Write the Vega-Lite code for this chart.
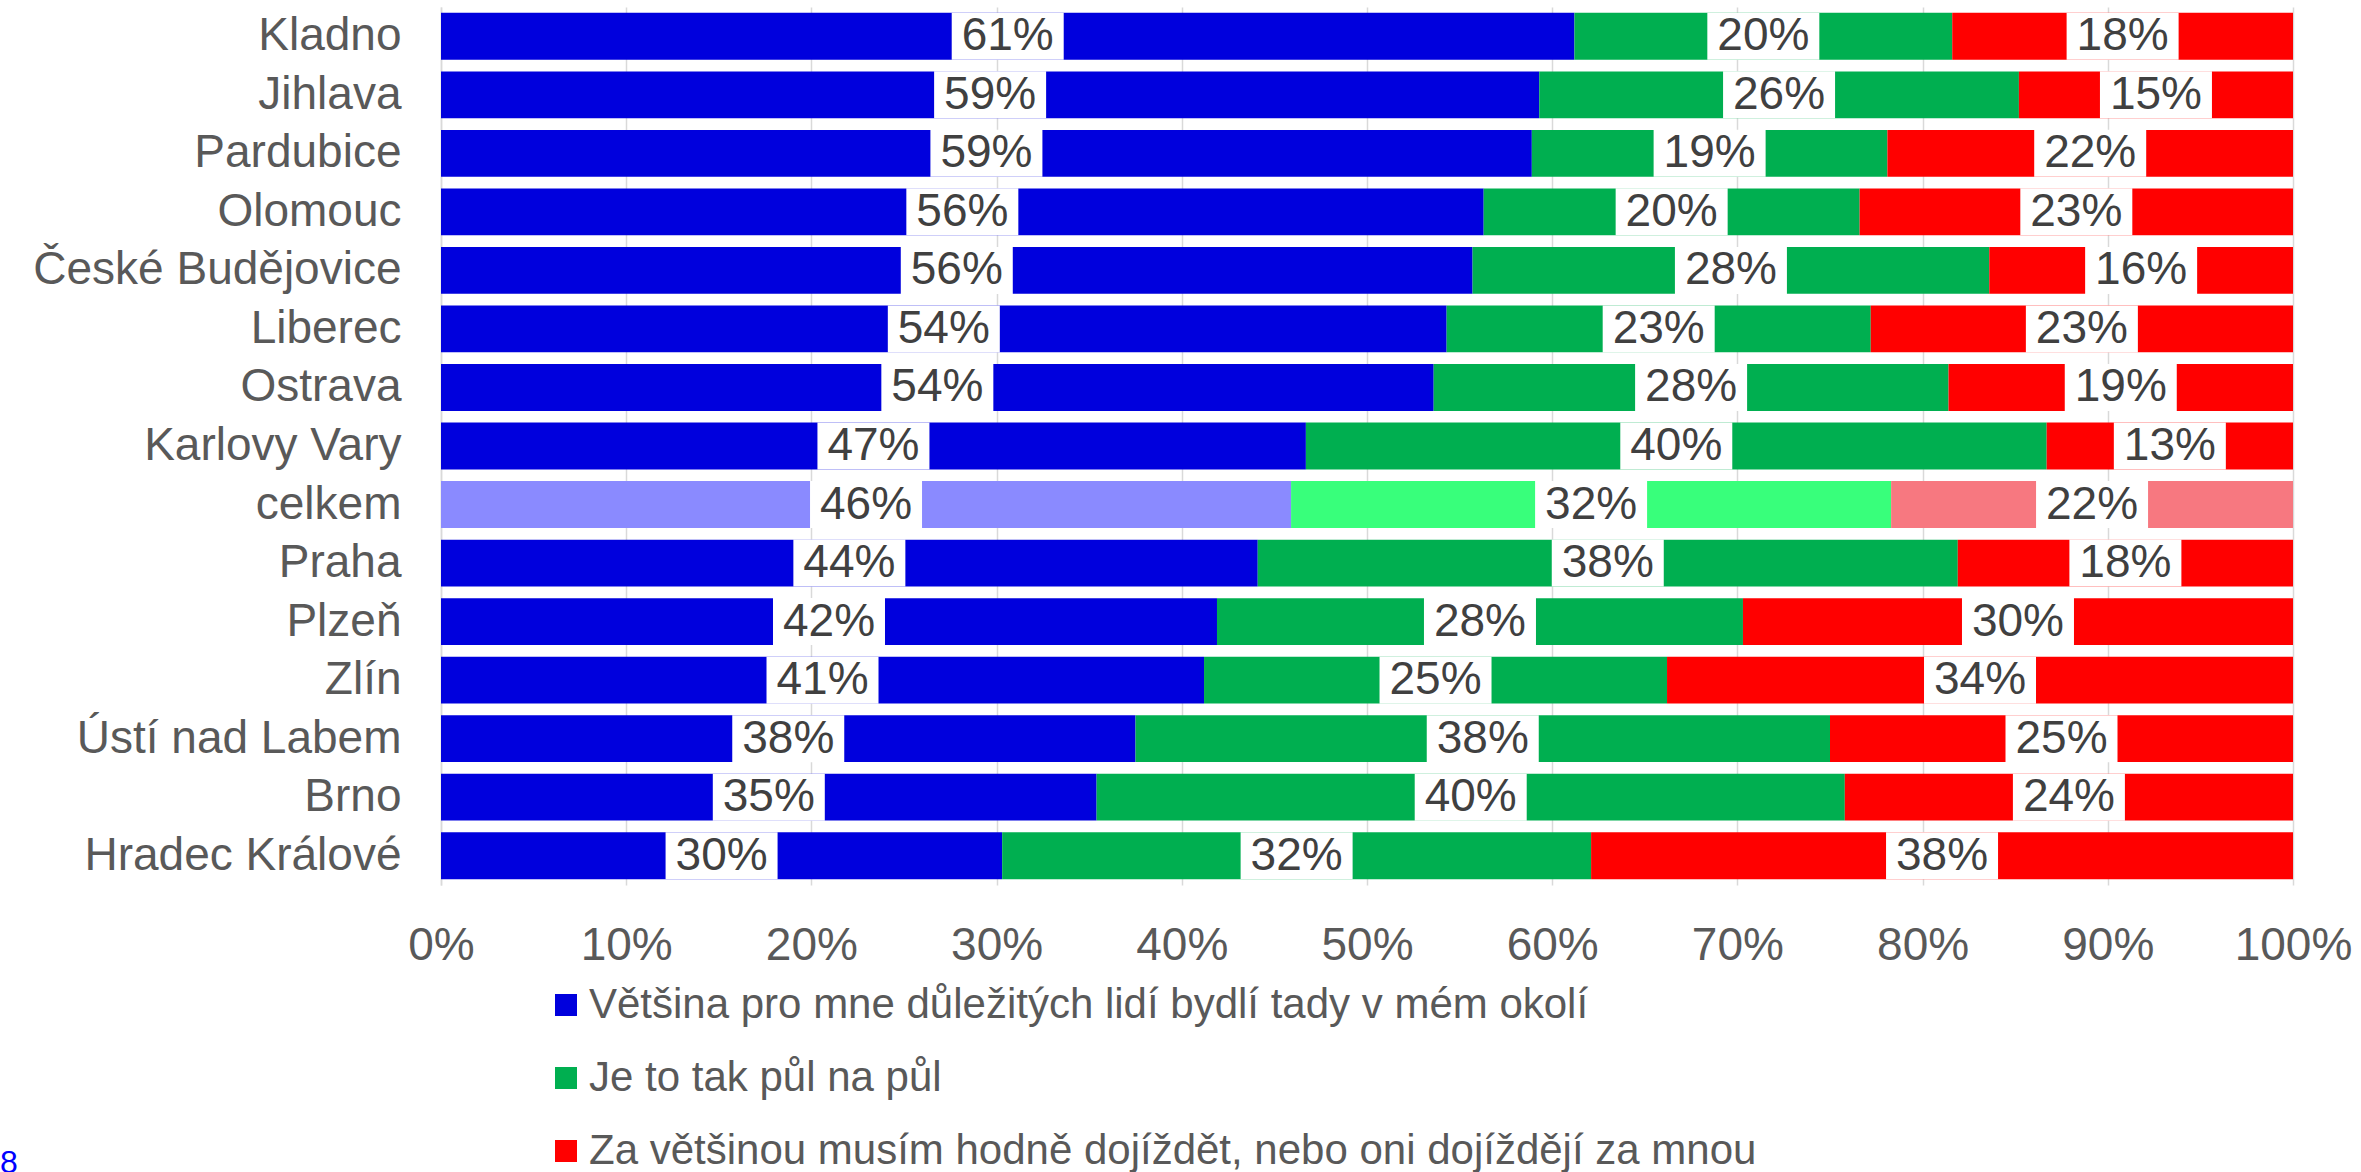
{
  "$schema": "https://vega.github.io/schema/vega-lite/v6.json",
  "width": 1852,
  "height": 878,
  "autosize": {"type": "none"},
  "padding": {"left": 441, "top": 7, "right": 68, "bottom": 287},
  "background": "white",
  "config": {
    "font": "Liberation Sans",
    "view": {"stroke": null}
  },
  "title": {"text": "8", "orient": "bottom", "anchor": "start", "frame": "group", "color": "#0000FF", "fontSize": 32, "fontWeight": "normal", "offset": -24, "dx": -441},
  "data": {
    "values": [
      {"mesto": "Kladno", "k": 1, "o": "Většina pro mne důležitých lidí bydlí tady v mém okolí", "v": 0.612},
      {"mesto": "Kladno", "k": 2, "o": "Je to tak půl na půl", "v": 0.204},
      {"mesto": "Kladno", "k": 3, "o": "Za většinou musím hodně dojíždět, nebo oni dojíždějí za mnou", "v": 0.184},
      {"mesto": "Jihlava", "k": 1, "o": "Většina pro mne důležitých lidí bydlí tady v mém okolí", "v": 0.593},
      {"mesto": "Jihlava", "k": 2, "o": "Je to tak půl na půl", "v": 0.259},
      {"mesto": "Jihlava", "k": 3, "o": "Za většinou musím hodně dojíždět, nebo oni dojíždějí za mnou", "v": 0.148},
      {"mesto": "Pardubice", "k": 1, "o": "Většina pro mne důležitých lidí bydlí tady v mém okolí", "v": 0.589},
      {"mesto": "Pardubice", "k": 2, "o": "Je to tak půl na půl", "v": 0.192},
      {"mesto": "Pardubice", "k": 3, "o": "Za většinou musím hodně dojíždět, nebo oni dojíždějí za mnou", "v": 0.219},
      {"mesto": "Olomouc", "k": 1, "o": "Většina pro mne důležitých lidí bydlí tady v mém okolí", "v": 0.563},
      {"mesto": "Olomouc", "k": 2, "o": "Je to tak půl na půl", "v": 0.203},
      {"mesto": "Olomouc", "k": 3, "o": "Za většinou musím hodně dojíždět, nebo oni dojíždějí za mnou", "v": 0.234},
      {"mesto": "České Budějovice", "k": 1, "o": "Většina pro mne důležitých lidí bydlí tady v mém okolí", "v": 0.557},
      {"mesto": "České Budějovice", "k": 2, "o": "Je to tak půl na půl", "v": 0.279},
      {"mesto": "České Budějovice", "k": 3, "o": "Za většinou musím hodně dojíždět, nebo oni dojíždějí za mnou", "v": 0.164},
      {"mesto": "Liberec", "k": 1, "o": "Většina pro mne důležitých lidí bydlí tady v mém okolí", "v": 0.543},
      {"mesto": "Liberec", "k": 2, "o": "Je to tak půl na půl", "v": 0.229},
      {"mesto": "Liberec", "k": 3, "o": "Za většinou musím hodně dojíždět, nebo oni dojíždějí za mnou", "v": 0.228},
      {"mesto": "Ostrava", "k": 1, "o": "Většina pro mne důležitých lidí bydlí tady v mém okolí", "v": 0.536},
      {"mesto": "Ostrava", "k": 2, "o": "Je to tak půl na půl", "v": 0.278},
      {"mesto": "Ostrava", "k": 3, "o": "Za většinou musím hodně dojíždět, nebo oni dojíždějí za mnou", "v": 0.186},
      {"mesto": "Karlovy Vary", "k": 1, "o": "Většina pro mne důležitých lidí bydlí tady v mém okolí", "v": 0.467},
      {"mesto": "Karlovy Vary", "k": 2, "o": "Je to tak půl na půl", "v": 0.400},
      {"mesto": "Karlovy Vary", "k": 3, "o": "Za většinou musím hodně dojíždět, nebo oni dojíždějí za mnou", "v": 0.133},
      {"mesto": "celkem", "k": 1, "o": "Většina pro mne důležitých lidí bydlí tady v mém okolí", "v": 0.459},
      {"mesto": "celkem", "k": 2, "o": "Je to tak půl na půl", "v": 0.324},
      {"mesto": "celkem", "k": 3, "o": "Za většinou musím hodně dojíždět, nebo oni dojíždějí za mnou", "v": 0.217},
      {"mesto": "Praha", "k": 1, "o": "Většina pro mne důležitých lidí bydlí tady v mém okolí", "v": 0.441},
      {"mesto": "Praha", "k": 2, "o": "Je to tak půl na půl", "v": 0.378},
      {"mesto": "Praha", "k": 3, "o": "Za většinou musím hodně dojíždět, nebo oni dojíždějí za mnou", "v": 0.181},
      {"mesto": "Plzeň", "k": 1, "o": "Většina pro mne důležitých lidí bydlí tady v mém okolí", "v": 0.419},
      {"mesto": "Plzeň", "k": 2, "o": "Je to tak půl na půl", "v": 0.284},
      {"mesto": "Plzeň", "k": 3, "o": "Za většinou musím hodně dojíždět, nebo oni dojíždějí za mnou", "v": 0.297},
      {"mesto": "Zlín", "k": 1, "o": "Většina pro mne důležitých lidí bydlí tady v mém okolí", "v": 0.412},
      {"mesto": "Zlín", "k": 2, "o": "Je to tak půl na půl", "v": 0.250},
      {"mesto": "Zlín", "k": 3, "o": "Za většinou musím hodně dojíždět, nebo oni dojíždějí za mnou", "v": 0.338},
      {"mesto": "Ústí nad Labem", "k": 1, "o": "Většina pro mne důležitých lidí bydlí tady v mém okolí", "v": 0.375},
      {"mesto": "Ústí nad Labem", "k": 2, "o": "Je to tak půl na půl", "v": 0.375},
      {"mesto": "Ústí nad Labem", "k": 3, "o": "Za většinou musím hodně dojíždět, nebo oni dojíždějí za mnou", "v": 0.250},
      {"mesto": "Brno", "k": 1, "o": "Většina pro mne důležitých lidí bydlí tady v mém okolí", "v": 0.354},
      {"mesto": "Brno", "k": 2, "o": "Je to tak půl na půl", "v": 0.404},
      {"mesto": "Brno", "k": 3, "o": "Za většinou musím hodně dojíždět, nebo oni dojíždějí za mnou", "v": 0.242},
      {"mesto": "Hradec Králové", "k": 1, "o": "Většina pro mne důležitých lidí bydlí tady v mém okolí", "v": 0.303},
      {"mesto": "Hradec Králové", "k": 2, "o": "Je to tak půl na půl", "v": 0.318},
      {"mesto": "Hradec Králové", "k": 3, "o": "Za většinou musím hodně dojíždět, nebo oni dojíždějí za mnou", "v": 0.379}
    ]
  },
  "encoding": {
    "y": {
      "field": "mesto",
      "type": "nominal",
      "title": null,
      "scale": {
        "domain": ["Kladno", "Jihlava", "Pardubice", "Olomouc", "České Budějovice", "Liberec", "Ostrava", "Karlovy Vary", "celkem", "Praha", "Plzeň", "Zlín", "Ústí nad Labem", "Brno", "Hradec Králové"],
        "paddingInner": 0.2,
        "paddingOuter": 0.1
      },
      "axis": {
        "labelFontSize": 46,
        "labelColor": "#595959",
        "labelPadding": 40,
        "labelLimit": 1000,
        "ticks": false,
        "domain": true,
        "domainColor": "#d9d9d9",
        "domainWidth": 1.5,
        "grid": false
      }
    }
  },
  "layer": [
    {
      "transform": [{"filter": "datum.mesto !== 'celkem'"}],
      "mark": {"type": "bar"},
      "encoding": {
        "x": {
          "field": "v",
          "type": "quantitative",
          "stack": "normalize",
          "title": null,
          "scale": {"domain": [0, 1], "nice": false},
          "axis": {
            "format": ".0%",
            "values": [0, 0.1, 0.2, 0.3, 0.4, 0.5, 0.6, 0.7, 0.8, 0.9, 1],
            "labelFontSize": 46,
            "labelColor": "#595959",
            "labelPadding": 38,
            "domain": false,
            "ticks": false,
            "grid": true,
            "gridColor": "#d9d9d9",
            "gridWidth": 1.5,
            "labelFlush": false,
            "labelOverlap": false
          }
        },
        "color": {
          "field": "o",
          "type": "nominal",
          "scale": {
            "domain": ["Většina pro mne důležitých lidí bydlí tady v mém okolí", "Je to tak půl na půl", "Za většinou musím hodně dojíždět, nebo oni dojíždějí za mnou"],
            "range": ["#0000DD", "#00AF50", "#FF0000"]
          },
          "legend": {
            "title": null,
            "orient": "none",
            "legendX": 104,
            "legendY": 977,
            "direction": "vertical",
            "symbolType": "square",
            "symbolSize": 484,
            "symbolStrokeWidth": 0,
            "labelFontSize": 42,
            "labelColor": "#595959",
            "labelOffset": 2,
            "labelLimit": 2000,
            "rowPadding": 31,
            "padding": 0
          }
        },
        "order": {"field": "k"}
      }
    },
    {
      "transform": [{"filter": "datum.mesto === 'celkem'"}],
      "mark": {"type": "bar"},
      "encoding": {
        "x": {"field": "v", "type": "quantitative", "stack": "normalize"},
        "color": {
          "field": "o",
          "type": "nominal",
          "scale": {
            "domain": ["Většina pro mne důležitých lidí bydlí tady v mém okolí", "Je to tak půl na půl", "Za většinou musím hodně dojíždět, nebo oni dojíždějí za mnou"],
            "range": ["#8A8AFF", "#38FF7B", "#F77880"]
          },
          "legend": null
        },
        "order": {"field": "k"}
      }
    },
    {
      "mark": {"type": "tick", "color": "white", "opacity": 1, "thickness": 112, "size": 47},
      "encoding": {
        "x": {"field": "v", "type": "quantitative", "stack": "normalize", "bandPosition": 0.5},
        "detail": {"field": "o"},
        "order": {"field": "k"}
      }
    },
    {
      "mark": {"type": "text", "fontSize": 46, "color": "#404040", "baseline": "middle", "align": "center"},
      "encoding": {
        "x": {"field": "v", "type": "quantitative", "stack": "normalize", "bandPosition": 0.5},
        "text": {"field": "v", "type": "quantitative", "format": ".0%"},
        "detail": {"field": "o"},
        "order": {"field": "k"}
      }
    }
  ],
  "resolve": {"scale": {"color": "independent"}}
}
